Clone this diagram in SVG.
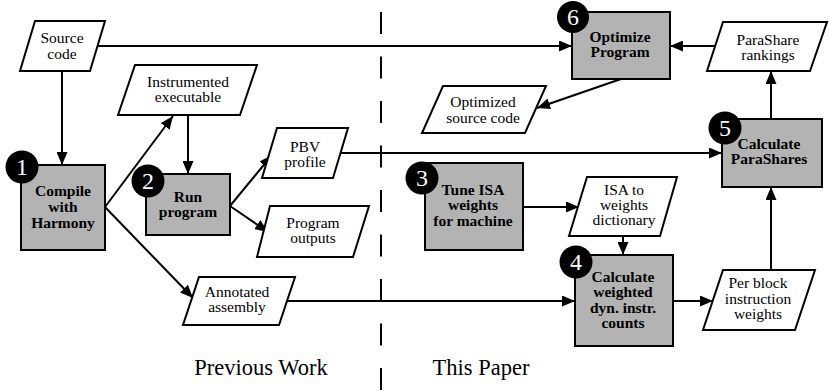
<svg xmlns="http://www.w3.org/2000/svg" width="829" height="391" viewBox="0 0 829 391">
<style>
.proc{fill:#b3b3b3;stroke:#000;stroke-width:2}
.data{fill:#fff;stroke:#000;stroke-width:2;stroke-linejoin:miter}
.t{font-family:"Liberation Serif","Times New Roman",serif;font-size:15.5px;text-anchor:middle;fill:#000}
.b{font-weight:bold}
.num{font-family:"Liberation Serif","Times New Roman",serif;font-size:24px;text-anchor:middle;fill:#fff}
.badge{fill:#000}
.c{stroke:#000;stroke-width:2;fill:none}
.lbl{font-family:"Liberation Serif","Times New Roman",serif;font-size:22.5px;text-anchor:middle;fill:#000}
</style>
<defs>
<marker id="ah" markerUnits="userSpaceOnUse" markerWidth="13" markerHeight="11" refX="13" refY="5.5" orient="auto">
<path d="M0,0 L13,5.5 L0,11 z" fill="#000"/>
</marker>
</defs>
<rect width="829" height="391" fill="#fff"/>
<line x1="381" y1="12" x2="381" y2="391" stroke="#000" stroke-width="2" stroke-dasharray="22 22.5"/>
<text class="lbl" x="261" y="375">Previous Work</text>
<text class="lbl" x="481" y="375">This Paper</text>
<g id="connectors">
<line class="c" x1="97" y1="46" x2="572" y2="46" marker-end="url(#ah)"/>
<line class="c" x1="62" y1="71" x2="62" y2="165" marker-end="url(#ah)"/>
<line class="c" x1="105" y1="207" x2="173" y2="116" marker-end="url(#ah)"/>
<line class="c" x1="105" y1="207" x2="193" y2="298" marker-end="url(#ah)"/>
<line class="c" x1="188" y1="115" x2="188" y2="174" marker-end="url(#ah)"/>
<line class="c" x1="230" y1="206" x2="272" y2="155" marker-end="url(#ah)"/>
<line class="c" x1="230" y1="206" x2="268" y2="232" marker-end="url(#ah)"/>
<line class="c" x1="341" y1="153" x2="722" y2="153" marker-end="url(#ah)"/>
<line class="c" x1="286" y1="301" x2="575" y2="301" marker-end="url(#ah)"/>
<line class="c" x1="523" y1="207" x2="579" y2="207" marker-end="url(#ah)"/>
<line class="c" x1="623" y1="236" x2="623" y2="255" marker-end="url(#ah)"/>
<line class="c" x1="673" y1="301" x2="713" y2="301" marker-end="url(#ah)"/>
<line class="c" x1="771" y1="270" x2="771" y2="187" marker-end="url(#ah)"/>
<line class="c" x1="771" y1="119" x2="771" y2="71" marker-end="url(#ah)"/>
<line class="c" x1="715" y1="46" x2="670" y2="46" marker-end="url(#ah)"/>
<line class="c" x1="621" y1="79" x2="537" y2="108" marker-end="url(#ah)"/>
</g>
<g id="source-code">
<polygon class="data" points="35,21 105,21 90,71 20,71"/>
<text class="t" x="62" y="43">Source<tspan x="62" dy="16">code</tspan></text>
</g>
<g id="instrumented-executable">
<polygon class="data" points="135,65 257,65 240,115 118,115"/>
<text class="t" x="188" y="87">Instrumented<tspan x="188" dy="15">executable</tspan></text>
</g>
<g id="pbv-profile">
<polygon class="data" points="277,128 348,128 333,178 262,178"/>
<text class="t" x="305" y="152">PBV<tspan x="305" dy="15">profile</tspan></text>
</g>
<g id="program-outputs">
<polygon class="data" points="270,206 369,206 353,257 257,257"/>
<text class="t" x="313" y="228">Program<tspan x="313" dy="15">outputs</tspan></text>
</g>
<g id="annotated-assembly">
<polygon class="data" points="199,277 295,277 279,325 183,325"/>
<text class="t" x="237" y="297">Annotated<tspan x="237" dy="15">assembly</tspan></text>
</g>
<g id="compile">
<rect class="proc" x="21" y="165" width="84" height="85"/>
<circle class="badge" cx="22" cy="167" r="16.5"/>
<text class="num" x="22" y="175">1</text>
<text class="t b" x="63" y="196">Compile<tspan x="63" dy="16">with</tspan><tspan x="63" dy="16">Harmony</tspan></text>
</g>
<g id="run-program">
<rect class="proc" x="146" y="174" width="84" height="61"/>
<circle class="badge" cx="148" cy="181" r="16.5"/>
<text class="num" x="148" y="189">2</text>
<text class="t b" x="188" y="202">Run<tspan x="188" dy="15">program</tspan></text>
</g>
<g id="optimize-program">
<rect class="proc" x="572" y="12" width="98" height="67"/>
<circle class="badge" cx="573" cy="17" r="16"/>
<text class="num" x="573" y="25">6</text>
<text class="t b" x="620" y="42">Optimize<tspan x="620" dy="15">Program</tspan></text>
</g>
<g id="optimized-source-code">
<polygon class="data" points="443,86 546,86 525,133 422,133"/>
<text class="t" x="483" y="107">Optimized<tspan x="483" dy="16">source code</tspan></text>
</g>
<g id="parashare-rankings">
<polygon class="data" points="723,22 827,22 810,71 707,71"/>
<text class="t" x="768" y="45">ParaShare<tspan x="768" dy="14.5">rankings</tspan></text>
</g>
<g id="calculate-parashares">
<rect class="proc" x="722" y="119" width="100" height="68"/>
<circle class="badge" cx="725" cy="128" r="16.5"/>
<text class="num" x="725" y="136">5</text>
<text class="t b" x="769" y="149">Calculate<tspan x="769" dy="15">ParaShares</tspan></text>
</g>
<g id="tune-isa">
<rect class="proc" x="425" y="163" width="98" height="87"/>
<circle class="badge" cx="422" cy="178" r="16.5"/>
<text class="num" x="422" y="186">3</text>
<text class="t b" x="473" y="195">Tune ISA<tspan x="473" dy="15">weights</tspan><tspan x="473" dy="16">for machine</tspan></text>
</g>
<g id="isa-dictionary">
<polygon class="data" points="587,177 677,177 660,236 569,236"/>
<text class="t" x="624" y="195">ISA to<tspan x="624" dy="15">weights</tspan><tspan x="624" dy="15">dictionary</tspan></text>
</g>
<g id="calculate-weighted">
<rect class="proc" x="575" y="255" width="98" height="91"/>
<circle class="badge" cx="576" cy="262" r="16.5"/>
<text class="num" x="576" y="270">4</text>
<text class="t b" x="623" y="282">Calculate<tspan x="623" dy="15">weighted</tspan><tspan x="623" dy="15.5">dyn. instr.</tspan><tspan x="623" dy="15.5">counts</tspan></text>
</g>
<g id="per-block-weights">
<polygon class="data" points="723,270 815,270 795,330 703,330"/>
<text class="t" x="758" y="288">Per block<tspan x="758" dy="16">instruction</tspan><tspan x="758" dy="15">weights</tspan></text>
</g>
</svg>
